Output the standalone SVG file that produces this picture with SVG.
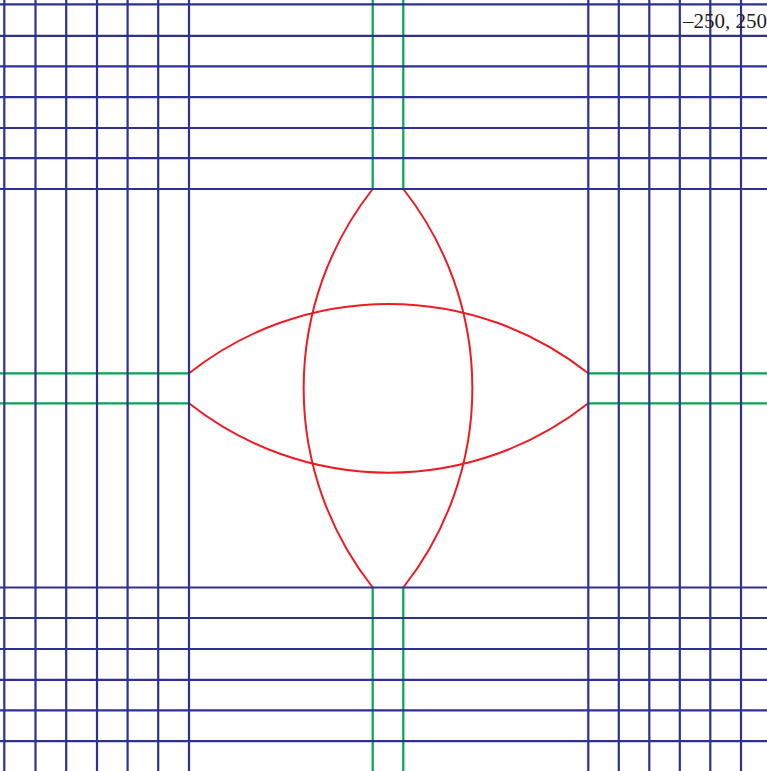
<svg xmlns="http://www.w3.org/2000/svg" width="767" height="771" viewBox="0 0 767 771">
<style>
.bg{fill:#ffffff}
.b{stroke:#2e3192;stroke-width:2.2;fill:none}
.g{stroke:#00a651;stroke-width:2.2;fill:none}
.r{stroke:#ed1c24;stroke-width:2;fill:none}
.t{font-family:"Liberation Serif","Times New Roman",serif;font-size:21px;fill:#231f20}
</style>
<rect class="bg" x="0" y="0" width="767" height="771"/>
<g id="curves">
<path class="r" d="M372.7 189 A322 322 0 0 0 372.7 587.5"/>
<path class="r" d="M403.3 189 A322 322 0 0 1 403.3 587.5"/>
<path class="r" d="M189 373.3 A322 322 0 0 1 588.3 373.3"/>
<path class="r" d="M189 403.3 A322 322 0 0 0 588.3 403.3"/>
</g>
<g id="axes">
<path class="g" d="M372.7 0V189M403.3 0V189M372.7 587.5V771M403.3 587.5V771"/>
<path class="g" d="M0 373.3H189M0 403.3H189M588.3 373.3H767M588.3 403.3H767"/>
</g>
<g id="grid">
<path class="b" d="M4.3 0V771M35.5 0V771M66.2 0V771M97 0V771M127.6 0V771M158.2 0V771M189 0V771M588.3 0V771M618.8 0V771M649.3 0V771M679.8 0V771M710.3 0V771M741 0V771"/>
<path class="b" d="M0 4.3H767M0 35.8H767M0 66.3H767M0 97.2H767M0 128H767M0 158.2H767M0 189H767M0 587.5H767M0 618H767M0 649H767M0 679.8H767M0 710.3H767M0 741.2H767"/>
</g>
<g id="label">
<text class="t" x="683" y="28">–250, 250</text>
</g>
</svg>
